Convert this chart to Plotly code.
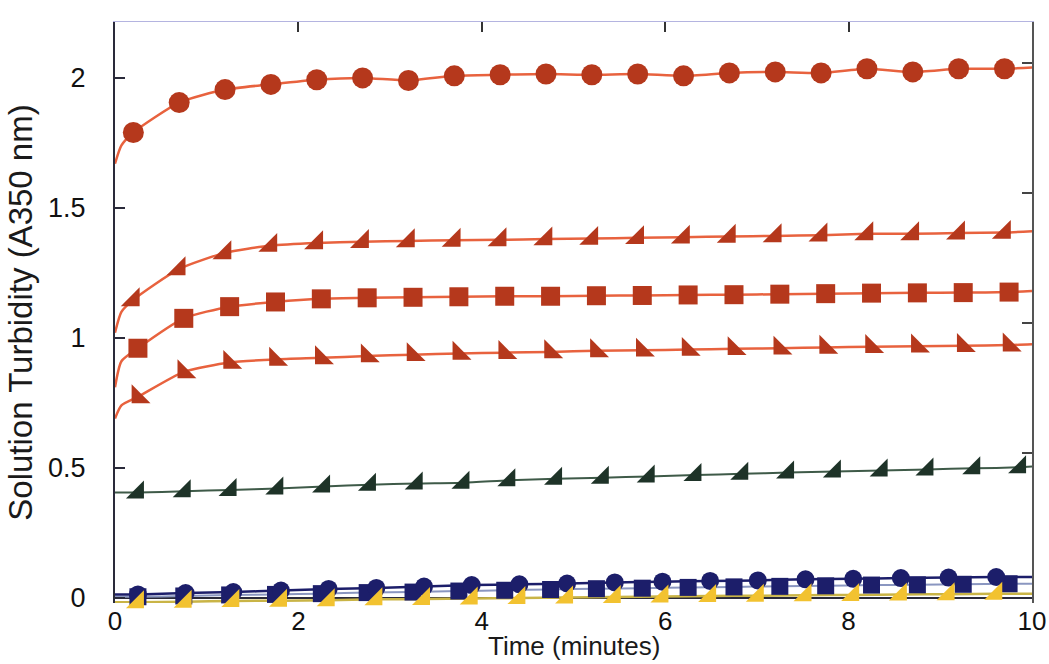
import plotly.graph_objects as go

# ---------------- data ----------------
t_a = [0.2, 0.7, 1.2, 1.7, 2.2, 2.7, 3.2, 3.7, 4.2, 4.7, 5.2, 5.7, 6.2, 6.7, 7.2, 7.7, 8.2, 8.7, 9.2, 9.7]
t_b = [0.25, 0.75, 1.25, 1.75, 2.25, 2.75, 3.25, 3.75, 4.25, 4.75, 5.25, 5.75, 6.25, 6.75, 7.25, 7.75, 8.25, 8.75, 9.25, 9.75]
t_c = [0.25, 0.77, 1.29, 1.81, 2.33, 2.85, 3.37, 3.89, 4.41, 4.93, 5.45, 5.97, 6.49, 7.01, 7.53, 8.05, 8.57, 9.09, 9.61]
t_g = [0.25, 0.76, 1.26, 1.77, 2.28, 2.78, 3.29, 3.8, 4.3, 4.81, 5.32, 5.82, 6.33, 6.84, 7.34, 7.85, 8.36, 8.86, 9.37, 9.87]

red_circle = [1.79, 1.905, 1.955, 1.975, 1.993, 2.0, 1.99, 2.008, 2.012, 2.015, 2.012, 2.015, 2.008, 2.019, 2.023,
              2.019, 2.035, 2.023, 2.035, 2.035]
red_circle_start, red_circle_early, red_circle_end = 1.67, 1.74, 2.04

red_tri_up = [1.146, 1.265, 1.327, 1.355, 1.365, 1.37, 1.373, 1.375, 1.377, 1.38, 1.382, 1.385, 1.387, 1.39, 1.392,
              1.395, 1.4, 1.4, 1.403, 1.405]
red_tri_up_start, red_tri_up_early, red_tri_up_end = 1.02, 1.1, 1.41

red_square = [0.96, 1.075, 1.12, 1.138, 1.15, 1.154, 1.156, 1.158, 1.16, 1.16, 1.162, 1.163, 1.165, 1.166, 1.168,
              1.17, 1.172, 1.173, 1.174, 1.176]
red_square_start, red_square_early, red_square_end = 0.81, 0.91, 1.18

red_tri_low = [0.773, 0.869, 0.905, 0.917, 0.923, 0.93, 0.935, 0.94, 0.943, 0.946, 0.95, 0.952, 0.955, 0.958, 0.96,
               0.963, 0.966, 0.968, 0.97, 0.972]
red_tri_low_start, red_tri_low_early, red_tri_low_end = 0.69, 0.74, 0.975

green_tri = [0.405, 0.41, 0.415, 0.42, 0.428, 0.435, 0.44, 0.443, 0.452, 0.458, 0.462, 0.467, 0.472, 0.477, 0.482,
             0.486, 0.49, 0.494, 0.498, 0.502]
green_start, green_end = 0.405, 0.505

navy_circle = [0.013, 0.018, 0.022, 0.028, 0.034, 0.038, 0.043, 0.049, 0.052, 0.055, 0.059, 0.062, 0.065, 0.067,
               0.071, 0.073, 0.076, 0.078, 0.08]
navy_square = [0.004, 0.007, 0.011, 0.013, 0.016, 0.02, 0.022, 0.026, 0.029, 0.032, 0.035, 0.037, 0.04, 0.042, 0.044,
               0.046, 0.049, 0.05, 0.052, 0.054]
yellow_tri = [-0.017, -0.015, -0.012, -0.011, -0.009, -0.006, -0.005, -0.003, -0.001, 0.001, 0.003, 0.005, 0.007,
              0.008, 0.01, 0.011, 0.013, 0.014, 0.016]

x_ticks = [0, 2, 4, 6, 8, 10]
x_top_ticks = [2, 4, 6, 8]
y_ticks = [0, 0.5, 1, 1.5, 2]
y_tick_text = ["0", "0.5", "1", "1.5", "2"]
x_title = "Time (minutes)"
y_title = "Solution Turbidity (A350 nm)"

# ---------------- styles ----------------
RED_M = "#B5381C"
RED_L = "#E8623E"
GREEN_M = "#1E3328"
GREEN_L = "#3E5A48"
NAVY = "#1C1E6A"
STEEL = "#8A96C0"
YEL = "#F2C230"
YEL_L = "#C9B446"
AXIS = "#2a2a3a"
FONT = "Liberation Sans, Arial, sans-serif"

fig = go.Figure()


def add_line(ts, ys, color, width=2.5):
    fig.add_trace(go.Scatter(x=ts, y=ys, mode="lines", line=dict(color=color, width=width, shape="spline",
                                                                  smoothing=0.6),
                             hoverinfo="skip", showlegend=False, cliponaxis=False))


def add_markers(ts, ys, color, symbol, size):
    fig.add_trace(go.Scatter(x=ts, y=ys, mode="markers",
                             marker=dict(color=color, symbol=symbol, size=size, line=dict(width=0)),
                             showlegend=False, cliponaxis=False))


# red series: lines then markers
add_line([0, 0.07] + t_a + [10], [red_circle_start, red_circle_early] + red_circle + [red_circle_end], RED_L)
add_line([0, 0.07] + t_a + [10], [red_tri_up_start, red_tri_up_early] + red_tri_up + [red_tri_up_end], RED_L)
add_line([0, 0.07] + t_b + [10], [red_square_start, red_square_early] + red_square + [red_square_end], RED_L)
add_line([0, 0.07] + t_b + [10], [red_tri_low_start, red_tri_low_early] + red_tri_low + [red_tri_low_end], RED_L)
add_line([0] + t_g + [10], [green_start] + green_tri + [green_end], GREEN_L, 2)

# bottom cluster lines
add_line([0] + t_b + [10], [navy_square[0]] + navy_square + [navy_square[-1]], STEEL, 2)
add_line([0] + t_c + [10], [yellow_tri[0]] + yellow_tri + [yellow_tri[-1]], YEL_L, 2.5)
add_line([0] + t_c + [10], [navy_circle[0]] + navy_circle + [navy_circle[-1]], NAVY, 2.5)

add_markers(t_a, red_circle, RED_M, "circle", 21)
add_markers(t_a, red_tri_up, RED_M, "triangle-se", 21)
add_markers(t_b, red_square, RED_M, "square", 19)
add_markers(t_b, red_tri_low, RED_M, "triangle-sw", 21)
add_markers(t_g, green_tri, GREEN_M, "triangle-se", 20)

add_markers(t_b, navy_square, NAVY, "square", 17)
add_markers(t_c, navy_circle, NAVY, "circle", 18)
add_markers(t_c, yellow_tri, YEL, "triangle-se", 20)

# empty traces so that the top and right frame axes are drawn
fig.add_trace(go.Scatter(x=[None], y=[None], xaxis="x2", yaxis="y", showlegend=False, hoverinfo="skip"))
fig.add_trace(go.Scatter(x=[None], y=[None], xaxis="x", yaxis="y2", showlegend=False, hoverinfo="skip"))

fig.update_layout(
    width=1049, height=664,
    margin=dict(l=115, r=17, t=22, b=61),
    paper_bgcolor="white", plot_bgcolor="white",
    font=dict(family=FONT, color="#1a1a1a"),
    showlegend=False,
    xaxis=dict(range=[0, 10], tickvals=x_ticks, ticktext=[str(v) for v in x_ticks], ticks="",
               ticklabelstandoff=0, automargin=False,
               showgrid=False, zeroline=False, showline=False,
               tickfont=dict(size=26, family=FONT, color="#111")),
    yaxis=dict(range=[-0.02, 2.215], tickvals=y_ticks, ticktext=y_tick_text, ticks="inside", ticklen=10,
               tickwidth=2, tickcolor=AXIS, ticklabelstandoff=22, automargin=False,
               showgrid=False, zeroline=True, zerolinecolor=AXIS, zerolinewidth=2,
               showline=True, linecolor=AXIS, linewidth=2,
               tickfont=dict(size=27, family=FONT, color="#111"),
               title=dict(text=y_title, font=dict(size=33, family=FONT, color="#1a1a1a"), standoff=6)),
    xaxis2=dict(range=[0, 10], overlaying="x", side="top", anchor="y", tickvals=x_top_ticks, ticks="inside",
                ticklen=10, tickwidth=2, tickcolor="#333", showticklabels=False, showgrid=False, zeroline=False,
                showline=True, linecolor="#B4B4E0", linewidth=1),
    yaxis2=dict(range=[-0.078, 2.157], overlaying="y", side="right", anchor="x", tickvals=y_ticks[1:],
                ticks="inside", ticklen=10, tickwidth=2, tickcolor="#444", showticklabels=False, showgrid=False,
                zeroline=False, showline=True, linecolor="#555", linewidth=2),
    annotations=[dict(text=x_title, xref="paper", yref="paper", x=0.5, y=-0.074, xanchor="center",
                      yanchor="middle", showarrow=False, borderpad=0,
                      font=dict(size=26, family=FONT, color="#1a1a1a"))],
)

fig.write_html("out.html")
